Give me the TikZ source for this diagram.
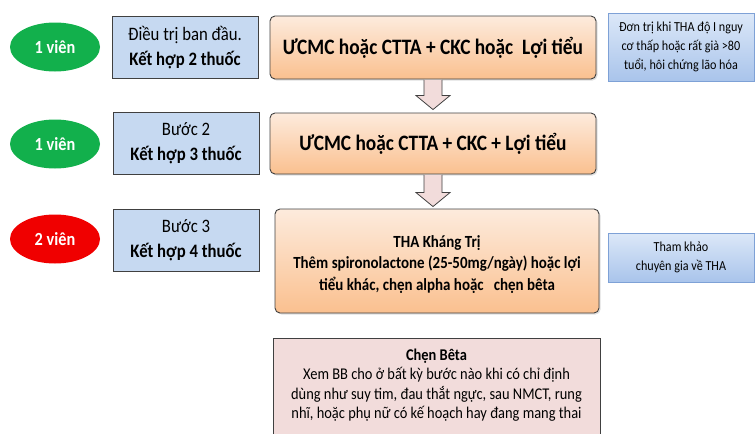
\documentclass[tikz,border=0pt]{standalone}
\usepackage{fontspec}
\setmainfont{Carlito}[FakeStretch=0.88]
\usetikzlibrary{calc,shadows,shapes.geometric}
\definecolor{pillgreen}{HTML}{12B04C}
\definecolor{pillred}{HTML}{F00000}
\definecolor{stepblue}{HTML}{C6D9F1}
\definecolor{orangetop}{HTML}{FDEBDD}
\definecolor{orangebot}{HTML}{FAC08F}
\definecolor{notetop}{HTML}{DCE8F8}
\definecolor{notebot}{HTML}{A9C4EB}
\definecolor{noteedge}{HTML}{7EA1D6}
\definecolor{pinkfill}{HTML}{F2DCDB}
\definecolor{edgegray}{HTML}{404040}
\tikzset{
  pill/.style={ellipse, minimum width=90pt, minimum height=49pt, inner sep=0pt,
    text=white, font=\fontsize{18.5}{20}\selectfont\bfseries},
  stepbox/.style={draw=edgegray, line width=0.9pt, fill=stepblue, minimum width=146pt,
    minimum height=62pt, align=center, inner sep=0pt, font=\fontsize{19}{25}\selectfont},
  regimen/.style={draw=edgegray, line width=0.9pt, rounded corners=5pt,
    top color=orangetop, bottom color=orangebot, align=center, inner sep=0pt,
    drop shadow={opacity=0.25, shadow xshift=1.5pt, shadow yshift=-1.5pt}},
  note/.style={draw=noteedge, line width=0.7pt, top color=notetop, bottom color=notebot,
    align=center, inner sep=0pt, font=\fontsize{13.8}{19}\selectfont,
    drop shadow={opacity=0.2, shadow xshift=1pt, shadow yshift=-1pt}},
  barrow/.style={draw=edgegray, line width=0.8pt, fill=pinkfill, line join=miter},
}
\begin{document}
\begin{tikzpicture}[x=1pt,y=-1pt]
\useasboundingbox (0,0) rectangle (756,434);
\clip (0,0) rectangle (756,434);
% pills
\node[pill, fill=pillgreen] (p1) at (55,47) {1 viên};
\node[pill, fill=pillgreen] (p2) at (55,144) {1 viên};
\node[pill, fill=pillred] (p3) at (55,239) {2 viên};
% step boxes
\node[stepbox] (s1) at (185,47.5) {Điều trị ban đầu.\\\textbf{Kết hợp 2 thuốc}};
\node[stepbox] (s2) at (186,143.5) {Bước 2\\\textbf{Kết hợp 3 thuốc}};
\node[stepbox] (s3) at (186,240) {Bước 3\\\textbf{Kết hợp 4 thuốc}};
% regimen boxes
\node[regimen, minimum width=326pt, minimum height=63pt, font=\fontsize{22}{24}\selectfont\bfseries]
  (o1) at (433,47.5) {ƯCMC hoặc CTTA + CKC hoặc\ \ Lợi tiểu};
\node[regimen, minimum width=326pt, minimum height=61pt, font=\fontsize{22}{24}\selectfont\bfseries]
  (o2) at (433,143.5) {ƯCMC hoặc CTTA + CKC + Lợi tiểu};
\node[regimen, minimum width=324pt, minimum height=104pt] (o3) at (437,261) {};
\node[align=center, inner sep=0pt, font=\fontsize{17}{21.5}\selectfont\bfseries]
  (o3t) at ($(o3.center)+(0,3.5)$) {THA Kháng Trị\\Thêm spironolactone (25-50mg/ngày) hoặc lợi\\tiểu khác, chẹn alpha hoặc\ \ \ chẹn bêta};
% notes
\node[note, minimum width=146pt, minimum height=68pt] (n1) at (681,47)
  {Đơn trị khi THA độ I nguy\\cơ thấp hoặc rất già >80\\tuổi, hôi chứng lão hóa};
\node[note, minimum width=146pt, minimum height=49pt] (n3) at (681,257.5)
  {Tham khảo\\chuyên gia về THA};
% beta-blocker box
\node[draw=edgegray, line width=0.9pt, fill=pinkfill, minimum width=327pt, minimum height=110pt,
  anchor=north, align=center, inner sep=0pt] (b) at (436.5,338) {};
\node[anchor=north, align=center, font=\fontsize{16.4}{19.5}\selectfont] (bt) at ($(b.north)+(0,7)$)
  {\textbf{Chẹn Bêta}\\Xem BB cho ở bất kỳ bước nào khi có chỉ định\\dùng như suy tim, đau thắt ngực, sau NMCT, rung\\nhĩ, hoặc phụ nữ có kế hoạch hay đang mang thai};
% block arrows
\draw[barrow] let \p1=($(o1.south)+(0,0.5)$), \p2=($(o2.north)+(0,-3)$) in
  (\x1-9pt,\y1) -- (\x1-9pt,\y2+14pt) -- (\x1-17pt,\y2+14pt) -- (\x1,\y2)
  -- (\x1+17pt,\y2+14pt) -- (\x1+9pt,\y2+14pt) -- (\x1+9pt,\y1);
\draw[barrow] let \p1=($(o2.south)+(0,0.5)$), \p2=($(o3.north)+(-4,-2)$) in
  (\x1-9pt,\y1) -- (\x1-9pt,\y2+14pt) -- (\x1-17pt,\y2+14pt) -- (\x1,\y2)
  -- (\x1+17pt,\y2+14pt) -- (\x1+9pt,\y2+14pt) -- (\x1+9pt,\y1);
\end{tikzpicture}
\end{document}
